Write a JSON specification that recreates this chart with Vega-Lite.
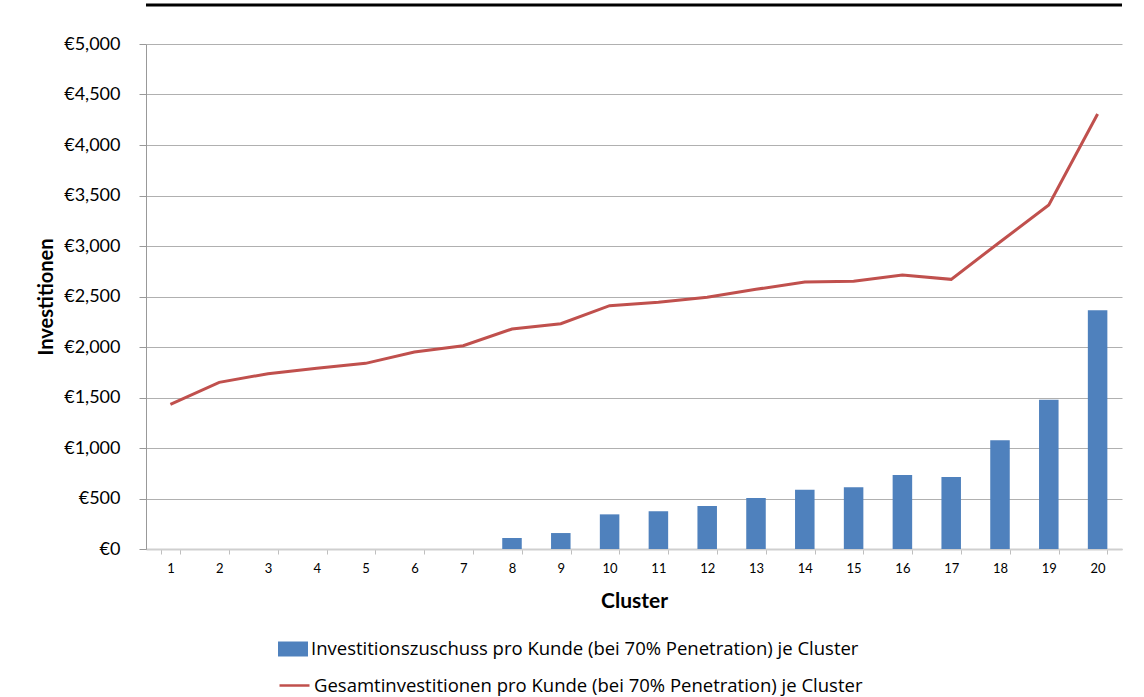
{
  "$schema": "https://vega.github.io/schema/vega-lite/v6.json",
  "autosize": "none",
  "width": 976,
  "height": 505,
  "padding": {"left": 146, "top": 44, "right": 22, "bottom": 148},
  "background": "white",
  "config": {
    "font": "Lato",
    "view": {"stroke": null},
    "axis": {"labelFont": "Lato", "titleFont": "Lato", "labelColor": "#000000", "titleColor": "#000000"}
  },
  "data": {
    "values": [
      {"cluster": 1, "zuschuss": 0, "gesamt": 1433},
      {"cluster": 2, "zuschuss": 0, "gesamt": 1650},
      {"cluster": 3, "zuschuss": 0, "gesamt": 1736},
      {"cluster": 4, "zuschuss": 0, "gesamt": 1789},
      {"cluster": 5, "zuschuss": 0, "gesamt": 1838},
      {"cluster": 6, "zuschuss": 0, "gesamt": 1950},
      {"cluster": 7, "zuschuss": 0, "gesamt": 2013},
      {"cluster": 8, "zuschuss": 109, "gesamt": 2178},
      {"cluster": 9, "zuschuss": 158, "gesamt": 2231},
      {"cluster": 10, "zuschuss": 343, "gesamt": 2409},
      {"cluster": 11, "zuschuss": 373, "gesamt": 2442},
      {"cluster": 12, "zuschuss": 426, "gesamt": 2492},
      {"cluster": 13, "zuschuss": 505, "gesamt": 2571},
      {"cluster": 14, "zuschuss": 587, "gesamt": 2644},
      {"cluster": 15, "zuschuss": 611, "gesamt": 2650},
      {"cluster": 16, "zuschuss": 733, "gesamt": 2713},
      {"cluster": 17, "zuschuss": 713, "gesamt": 2670},
      {"cluster": 18, "zuschuss": 1076, "gesamt": 3040},
      {"cluster": 19, "zuschuss": 1478, "gesamt": 3406},
      {"cluster": 20, "zuschuss": 2363, "gesamt": 4307}
    ]
  },
  "layer": [
    {
      "mark": {"type": "bar", "color": "#4f81bd"},
      "encoding": {
        "x": {
          "field": "cluster",
          "type": "ordinal",
          "scale": {"paddingInner": 0.6, "paddingOuter": 0.3},
          "axis": {
            "title": "Cluster",
            "titleFontSize": 21,
            "titleFontWeight": "bold",
            "titlePadding": 15,
            "labelAngle": 0,
            "labelFontSize": 13,
            "labelPadding": 8,
            "tickBand": "extent",
            "tickSize": 5,
            "tickColor": "#bfbfbf",
            "domainColor": "#cfcfcf",
            "domainWidth": 2,
            "grid": false
          }
        },
        "y": {
          "field": "zuschuss",
          "type": "quantitative",
          "scale": {"domain": [0, 5000], "nice": false},
          "axis": {
            "title": "Investitionen",
            "titleFontSize": 20,
            "titleFontWeight": "bold",
            "titlePadding": 7,
            "values": [0, 500, 1000, 1500, 2000, 2500, 3000, 3500, 4000, 4500, 5000],
            "labelExpr": "'€' + format(datum.value, ',')",
            "labelFontSize": 18,
            "labelPadding": 19,
            "tickSize": 7,
            "tickColor": "#999999",
            "domainColor": "#999999",
            "gridColor": "#b0b0b0",
            "gridWidth": 1
          }
        },
        "fill": {
          "datum": "Investitionszuschuss pro Kunde (bei 70% Penetration) je Cluster",
          "type": "nominal",
          "scale": {"range": ["#4f81bd"]},
          "legend": {
            "title": null,
            "orient": "none",
            "legendX": 132,
            "legendY": 590,
            "padding": 0,
            "symbolType": "M-1,-0.5H1V0.5H-1Z",
            "symbolSize": 900,
            "symbolStrokeWidth": 0,
            "labelFontSize": 18.5,
            "labelFont": "Open Sans",
            "labelColor": "#000000",
            "labelLimit": 0,
            "labelOffset": 3
          }
        }
      }
    },
    {
      "mark": {"type": "line", "strokeWidth": 3},
      "encoding": {
        "x": {"field": "cluster", "type": "ordinal"},
        "y": {"field": "gesamt", "type": "quantitative"},
        "stroke": {
          "datum": "Gesamtinvestitionen pro Kunde (bei 70% Penetration) je Cluster",
          "type": "nominal",
          "scale": {"range": ["#c0504d"]},
          "legend": {
            "title": null,
            "orient": "none",
            "legendX": 132,
            "legendY": 625,
            "padding": 0,
            "symbolType": "stroke",
            "symbolSize": 900,
            "symbolStrokeWidth": 2.5,
            "labelFontSize": 18.5,
            "labelFont": "Open Sans",
            "labelColor": "#000000",
            "labelLimit": 0,
            "labelOffset": 3
          }
        }
      }
    },
    {
      "data": {"values": [{"top": 5386}]},
      "mark": {"type": "rule", "color": "#000000", "strokeWidth": 3},
      "encoding": {"y": {"field": "top", "type": "quantitative"}}
    }
  ],
  "resolve": {"scale": {"fill": "independent", "stroke": "independent"}}
}
